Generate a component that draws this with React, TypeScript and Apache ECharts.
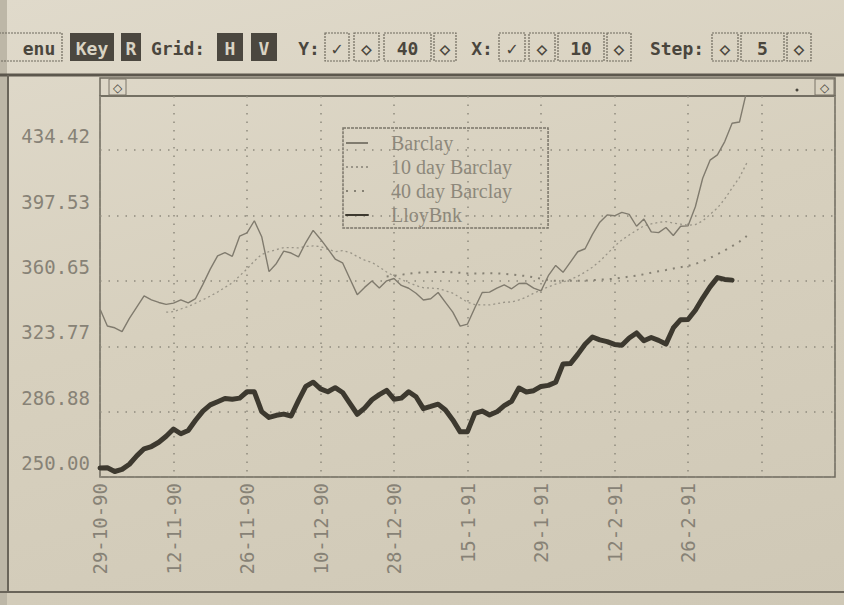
import React, { useEffect, useRef } from "react";
import * as echarts from "echarts";

// ---- data -------------------------------------------------------------
const tickLabels = ["29-10-90", "12-11-90", "26-11-90", "10-12-90", "28-12-90", "15-1-91", "29-1-91", "12-2-91", "26-2-91"];
const daySlots = 101; // trading-day slots on the time axis
const labelEvery = 10;

const yMin = 250;
const yMax = 465;
const yTickValues = [250, 286.884, 323.768, 360.652, 397.536, 434.42];
const yTickLabels = ["250.00", "286.88", "323.77", "360.65", "397.53", "434.42"];

const barclay = [
  344.8, 335.2, 334.2, 332.0, 339.5, 345.9, 352.2, 350.0, 348.5, 347.4,
  348.1, 349.9, 348.3, 350.7, 358.7, 367.3, 374.8, 376.6, 374.5, 385.9,
  387.7, 394.6, 385.6, 365.9, 370.5, 377.5, 376.4, 374.2, 382.3, 389.2,
  384.2, 378.7, 373.0, 370.9, 361.9, 352.9, 357.0, 360.6, 356.6, 360.7,
  362.0, 358.1, 356.5, 353.7, 349.9, 350.6, 354.1, 348.5, 343.0, 335.1,
  336.3, 345.5, 354.1, 354.3, 356.6, 358.4, 356.2, 359.2, 359.3, 356.6,
  355.0, 363.6, 369.4, 365.5, 371.3, 377.1, 378.8, 386.9, 393.8, 397.9,
  397.4, 399.3, 398.2, 391.5, 395.6, 388.3, 387.9, 390.8, 386.3, 391.5,
  391.7, 402.5, 418.6, 428.8, 431.8, 439.3, 449.6, 450.3, 468.0,
];

const barclay10Start = 9;
const barclay10 = [
  343.0, 343.3, 344.8, 346.2, 348.1, 350.0, 352.1, 354.4, 357.0, 359.6,
  363.5, 367.4, 371.9, 375.6, 377.2, 378.3, 379.4, 379.5, 379.3, 380.1,
  380.4, 380.0, 378.5, 377.2, 377.7, 376.8, 374.4, 372.4, 371.1, 368.5,
  365.7, 363.4, 361.4, 359.7, 358.0, 356.8, 356.6, 356.3, 355.1, 353.7,
  351.2, 348.6, 347.3, 347.1, 347.1, 347.8, 348.6, 348.8, 349.9, 351.5,
  353.7, 355.5, 357.3, 358.9, 360.0, 361.5, 363.3, 365.6, 368.4, 371.8,
  375.9, 380.2, 383.7, 386.6, 389.2, 391.7, 392.8, 393.7, 394.1, 393.3,
  392.7, 392.1, 392.4, 394.5, 398.2, 401.8, 406.9, 413.1, 419.0, 427.2,
];

const barclay40Start = 39;
const barclay40 = [
  363.1, 363.6, 364.1, 364.7, 365.2, 365.5, 365.6, 365.7, 365.6, 365.5,
  365.2, 364.9, 364.8, 364.9, 365.0, 364.9, 364.7, 364.3, 363.8, 363.4,
  362.7, 361.9, 361.1, 360.7, 360.7, 360.7, 360.7, 360.8, 361.1, 361.4,
  361.6, 361.9, 362.4, 363.1, 363.6, 364.4, 365.3, 366.1, 366.8, 367.6,
  368.4, 369.1, 370.2, 371.8, 373.6, 375.7, 377.9, 380.3, 382.8, 386.0,
];

const lloyds = [
  255.1, 255.2, 253.1, 254.3, 257.2, 261.9, 265.9, 267.2, 269.6, 273.0,
  277.1, 274.4, 276.2, 282.0, 287.2, 290.7, 292.5, 294.3, 293.9, 294.5,
  298.1, 298.1, 286.9, 283.6, 284.8, 285.5, 284.4, 293.1, 301.1, 303.5,
  299.7, 298.1, 300.4, 297.7, 291.5, 285.4, 288.9, 293.6, 296.5, 298.9,
  293.9, 294.5, 298.1, 295.3, 288.6, 289.8, 291.1, 287.8, 282.2, 275.5,
  275.6, 285.9, 287.2, 285.0, 286.8, 290.3, 292.7, 300.2, 298.0, 298.7,
  301.1, 301.7, 303.5, 313.8, 314.0, 319.2, 324.9, 329.0, 327.4, 326.4,
  324.8, 324.3, 328.4, 331.3, 326.9, 328.7, 327.1, 325.0, 334.1, 338.8,
  338.9, 344.1, 351.0, 357.3, 362.5, 361.5, 361.1,
];

const seriesNames = ["Barclay", "10 day Barclay", "40 day Barclay", "LloyBnk"];

// toolbar of the program window
const toolbarItems = [
  { x0: -10, x1: 62, tx: 39, text: "enu", kind: "box" },
  { x0: 70, x1: 114, text: "Key", kind: "dark" },
  { x0: 121, x1: 141, text: "R", kind: "dark" },
  { x0: 150, x1: 206, text: "Grid:", kind: "none" },
  { x0: 217, x1: 243, text: "H", kind: "dark" },
  { x0: 251, x1: 277, text: "V", kind: "dark" },
  { x0: 296, x1: 322, text: "Y:", kind: "none" },
  { x0: 325, x1: 349, text: "✓", kind: "box" },
  { x0: 354, x1: 379, text: "◇", kind: "box" },
  { x0: 384, x1: 431, text: "40", kind: "box" },
  { x0: 434, x1: 456, text: "◇", kind: "box" },
  { x0: 468, x1: 496, text: "X:", kind: "none" },
  { x0: 499, x1: 525, text: "✓", kind: "box" },
  { x0: 529, x1: 555, text: "◇", kind: "box" },
  { x0: 558, x1: 604, text: "10", kind: "box" },
  { x0: 607, x1: 631, text: "◇", kind: "box" },
  { x0: 644, x1: 710, text: "Step:", kind: "none" },
  { x0: 712, x1: 738, text: "◇", kind: "box" },
  { x0: 741, x1: 784, text: "5", kind: "box" },
  { x0: 787, x1: 811, text: "◇", kind: "box" },
];

// ---- helpers ----------------------------------------------------------
const padFront = (start: number, arr: number[]) => [
  ...Array(start).fill(null),
  ...arr,
];

const mono = "'DejaVu Sans Mono', monospace";
const ink = "#4a463d";
const faint = "#878276";

function buildToolbar() {
  const els: any[] = [];
  const yTop = 33;
  const h = 28;
  toolbarItems.forEach((it) => {
    const cx = it.tx !== undefined ? it.tx : (it.x0 + it.x1) / 2;
    if (it.kind === "dark") {
      els.push({
        type: "rect",
        shape: { x: it.x0, y: yTop, width: it.x1 - it.x0, height: h },
        style: { fill: "#4b473f" },
      });
    } else if (it.kind === "box") {
      els.push({
        type: "rect",
        shape: { x: it.x0, y: yTop, width: it.x1 - it.x0, height: h },
        style: { fill: "none", stroke: "#6f6a5e", lineWidth: 1.2, lineDash: [2, 1] },
      });
    }
    els.push({
      type: "text",
      x: cx,
      y: yTop + h / 2 + 1,
      style: {
        text: it.text,
        fontFamily: mono,
        fontWeight: "bold",
        fontSize: 18,
        fill: it.kind === "dark" ? "#d9d3c3" : ink,
        align: "center",
        verticalAlign: "middle",
      },
    });
  });
  return els;
}

export default function App() {
  const ref = useRef<HTMLDivElement>(null);

  useEffect(() => {
    if (!ref.current) return;
    const chart = echarts.init(ref.current, undefined, { renderer: "svg" });

    const days = Array.from({ length: daySlots }, (_, i) => String(i));

    const graphic: any[] = [
      { type: "rect", z: -10, shape: { x: 0, y: 0, width: 7, height: 605 }, style: { fill: "#bdb7a7" } },
      { type: "line", shape: { x1: 0, y1: 75, x2: 844, y2: 75 }, style: { stroke: "#5c574d", lineWidth: 3 } },
      { type: "line", shape: { x1: 8, y1: 75, x2: 8, y2: 592 }, style: { stroke: "#6a655a", lineWidth: 2 } },
      { type: "line", shape: { x1: 0, y1: 592, x2: 844, y2: 592 }, style: { stroke: "#6a655a", lineWidth: 2 } },
      { type: "rect", shape: { x: 100, y: 78, width: 735, height: 18 }, style: { fill: "none", stroke: "#6e695d", lineWidth: 1.5 } },
      { type: "rect", shape: { x: 109, y: 79, width: 17, height: 16 }, style: { fill: "none", stroke: "#7a7569", lineWidth: 1 } },
      { type: "text", x: 117.5, y: 87.5, style: { text: "◇", fontSize: 12, fontFamily: "'DejaVu Sans', sans-serif", fill: ink, align: "center", verticalAlign: "middle" } },
      { type: "circle", shape: { cx: 797, cy: 90, r: 1.5 }, style: { fill: ink } },
      { type: "rect", shape: { x: 815, y: 79, width: 19, height: 16 }, style: { fill: "none", stroke: "#7a7569", lineWidth: 1 } },
      { type: "text", x: 824.5, y: 87.5, style: { text: "◇", fontSize: 12, fontFamily: "'DejaVu Sans', sans-serif", fill: ink, align: "center", verticalAlign: "middle" } },
      ...buildToolbar(),
    ];

    const dotted = { type: [1.5, 7] as any, color: "#8f8a7d", width: 1.5 };

    chart.setOption({
      animation: false,
      backgroundColor: "transparent",
      graphic,
      grid: {
        left: 100,
        top: 96,
        right: 9,
        bottom: 128,
        show: true,
        borderColor: "#6e695d",
        borderWidth: 1.5,
        backgroundColor: "transparent",
        containLabel: false,
        outerBoundsMode: "none",
      },
      legend: {
        orient: "vertical",
        left: 343,
        top: 128,
        data: seriesNames,
        itemWidth: 22,
        itemHeight: 12,
        itemGap: 4,
        padding: [5, 36, 3, 2],
        borderColor: "#7b766a",
        borderWidth: 1.5,
        borderType: [3, 1],
        selectedMode: false,
        itemStyle: { opacity: 0 },
        textStyle: {
          fontFamily: "'Liberation Serif', serif",
          fontSize: 20,
          lineHeight: 20,
          color: "#8d887b",
          padding: [0, 0, 0, 18],
        },
      },
      xAxis: {
        type: "category",
        data: days,
        boundaryGap: false,
        axisLine: { show: false },
        axisTick: { show: false },
        axisLabel: {
          interval: labelEvery - 1,
          rotate: 90,
          margin: 6,
          fontFamily: mono,
          fontSize: 19,
          color: faint,
          formatter: (_v: string, idx: number) =>
            idx % labelEvery === 0 && tickLabels[idx / labelEvery] ? tickLabels[idx / labelEvery] : "",
        },
        splitLine: { show: true, interval: labelEvery - 1, lineStyle: dotted },
      },
      yAxis: {
        type: "value",
        min: yMin,
        max: yMax,
        axisLine: { show: false },
        axisTick: { show: false, customValues: yTickValues },
        axisLabel: {
          customValues: yTickValues,
          margin: 10,
          fontFamily: mono,
          fontSize: 19,
          lineHeight: 20,
          color: faint,
          verticalAlign: "bottom",
          padding: [0, 0, 4, 0],
          formatter: (v: number) => {
            const k = yTickValues.findIndex((t) => Math.abs(t - v) < 0.01);
            return k >= 0 ? yTickLabels[k] : "";
          },
        },
        splitLine: { show: true, lineStyle: dotted },
      },
      series: [
        {
          name: seriesNames[0],
          type: "line",
          data: barclay,
          symbol: "none",
          lineStyle: { color: "#807b6e", width: 1.4 },
          itemStyle: { color: "#807b6e" },
          z: 3,
        },
        {
          name: seriesNames[1],
          type: "line",
          data: padFront(barclay10Start, barclay10),
          symbol: "none",
          lineStyle: { color: "#9a9588", width: 1.3, type: [2, 3] },
          itemStyle: { color: "#9a9588" },
          z: 2,
        },
        {
          name: seriesNames[2],
          type: "line",
          data: padFront(barclay40Start, barclay40),
          symbol: "none",
          lineStyle: { color: "#868174", width: 2, type: [2, 6] },
          itemStyle: { color: "#868174" },
          z: 2,
        },
        {
          name: seriesNames[3],
          type: "line",
          data: lloyds,
          symbol: "none",
          lineStyle: { color: "#3d392f", width: 5, cap: "round", join: "round" },
          itemStyle: { color: "#3d392f" },
          z: 4,
        },
      ],
    });

    return () => chart.dispose();
  }, []);

  return (
    <div
      ref={ref}
      style={{
        position: "fixed",
        left: 0,
        top: 0,
        width: 844,
        height: 605,
        background:
          "linear-gradient(165deg, #e0dacb 0%, #d7d0be 45%, #cfc8b6 100%)",
      }}
    />
  );
}
